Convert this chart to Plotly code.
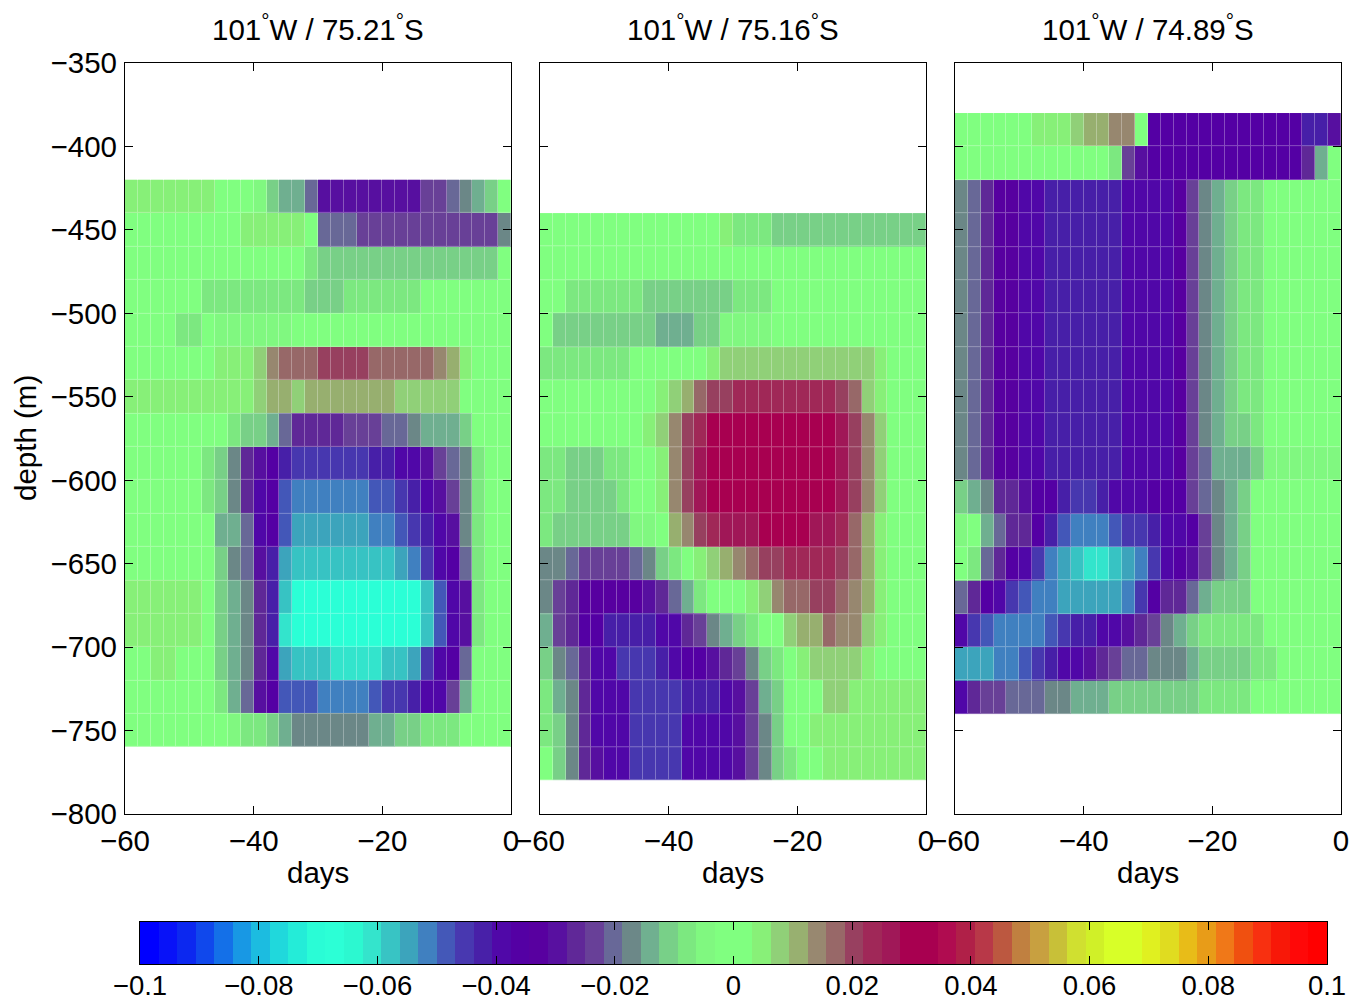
import plotly.graph_objects as go
import numpy as np

# ---------------- data (values in thousandths) ----------------
DAYS = [-59, -57, -55, -53, -51, -49, -47, -45, -43, -41, -39, -37, -35, -33, -31,
        -29, -27, -25, -23, -21, -19, -17, -15, -13, -11, -9, -7, -5, -3, -1]

DEPTH1 = [-430, -450, -470, -490, -510, -530, -550, -570, -590, -610, -630, -650,
          -670, -690, -710, -730, -750]
DEPTH2 = [-450, -470, -490, -510, -530, -550, -570, -590, -610, -630, -650, -670,
          -690, -710, -730, -750, -770]
DEPTH3 = [-390, -410, -430, -450, -470, -490, -510, -530, -550, -570, -590, -610,
          -630, -650, -670, -690, -710, -730]

P1 = [
    [6,6,6,6,6,6,6,0,0,0,-4,-11,-14,-14,-20,-30,-30,-30,-30,-30,-30,-30,-30,-24,-24,-20,-17,-14,-11,0],
    [0,0,0,0,0,0,0,0,0,5,5,5,5,5,0,-20,-20,-20,-24,-24,-24,-24,-24,-24,-24,-24,-24,-24,-24,-17],
    [0,0,0,0,0,0,0,0,0,0,0,0,0,0,-8,-11,-11,-11,-11,-11,-11,-11,-11,-11,-11,-11,-11,-11,-11,0],
    [0,0,0,0,0,0,-8,-8,-8,-8,-8,-8,-8,-8,-11,-11,-11,-8,-8,-8,-8,-8,-8,0,0,0,0,0,0,0],
    [0,0,0,0,-8,-8,0,-4,-4,-4,-4,-4,-4,0,0,0,0,0,0,0,0,0,0,0,0,0,0,0,0,0],
    [0,0,0,0,0,0,0,5,5,5,8,14,17,17,17,20,20,20,20,17,17,17,17,17,14,11,5,0,0,0],
    [5,5,5,5,5,5,5,5,5,5,9,11,11,8,11,11,11,11,11,11,11,8,8,8,8,8,0,0,0,0],
    [0,0,0,0,0,0,0,0,-8,-11,-11,-14,-20,-28,-28,-28,-28,-24,-24,-24,-20,-20,-17,-14,-14,-14,-11,0,0,0],
    [0,0,0,0,0,0,-8,-11,-17,-27,-30,-36,-42,-45,-45,-45,-45,-45,-45,-42,-42,-38,-38,-30,-24,-20,-17,-8,0,0],
    [0,0,0,0,0,0,-8,-11,-17,-27,-38,-36,-48,-52,-52,-52,-52,-52,-52,-48,-48,-45,-42,-38,-30,-24,-17,-8,0,0],
    [0,0,0,0,0,0,0,-14,-14,-20,-38,-36,-48,-55,-55,-55,-55,-55,-55,-52,-52,-48,-45,-42,-38,-30,-17,-8,0,0],
    [0,0,0,0,0,0,0,-11,-17,-20,-30,-42,-55,-58,-58,-58,-58,-58,-58,-58,-58,-55,-52,-45,-38,-36,-20,-8,0,0],
    [5,5,5,5,5,5,0,-11,-14,-17,-28,-42,-58,-67,-67,-67,-67,-67,-67,-67,-67,-67,-67,-58,-48,-38,-30,-8,0,0],
    [5,5,5,5,5,5,0,-11,-14,-17,-28,-42,-61,-67,-67,-67,-67,-67,-67,-67,-67,-67,-67,-58,-48,-38,-30,-8,0,0],
    [0,0,5,5,0,0,0,-11,-14,-17,-28,-38,-55,-58,-58,-58,-61,-61,-61,-61,-58,-58,-55,-45,-38,-36,-20,0,0,0],
    [0,0,0,0,0,0,0,-8,-14,-20,-30,-36,-48,-48,-48,-52,-52,-52,-52,-48,-45,-45,-42,-38,-38,-24,-14,0,0,0],
    [0,0,0,0,0,0,0,0,-4,-8,-8,-11,-14,-17,-17,-17,-17,-17,-17,-14,-14,-11,-11,-8,-8,-8,0,0,0,0],
]

P2 = [
    [0,0,0,0,0,0,0,0,0,0,0,0,0,0,5,-8,-8,-8,-11,-11,-11,-11,-11,-11,-11,-11,-11,-11,-11,-11],
    [0,0,0,0,0,0,0,0,0,0,0,0,0,0,0,0,0,0,0,0,0,0,0,0,0,0,0,0,0,0],
    [0,0,-8,-8,-8,-8,-8,-8,-11,-11,-11,-11,-11,-11,-11,-8,-8,-8,0,0,0,0,0,0,0,0,0,0,0,0],
    [0,-11,-11,-11,-11,-11,-11,-11,-11,-14,-14,-14,-11,-11,-4,-4,-4,-4,0,0,0,0,0,0,0,0,0,0,0,0],
    [-8,-8,-8,-8,-8,-8,-8,0,0,0,0,0,0,5,8,8,8,8,8,8,8,8,8,8,8,8,5,0,0,0],
    [0,0,0,0,0,0,0,0,0,5,8,12,17,20,20,23,23,23,23,23,23,23,23,20,17,8,5,0,0,0],
    [0,0,0,0,0,0,0,0,5,8,14,20,23,30,30,30,30,30,30,30,30,30,30,27,20,14,8,0,0,0],
    [-8,-8,-11,-11,-11,-8,-8,0,0,5,14,20,27,32,32,32,32,32,32,32,32,32,32,27,20,14,8,0,0,0],
    [-8,-8,-11,-11,-11,-11,-8,0,0,5,14,20,27,32,32,32,32,32,32,32,32,32,32,27,20,14,8,0,0,0],
    [-8,-11,-11,-11,-11,-11,-11,-4,-4,0,11,14,20,23,27,27,27,32,32,32,32,27,27,23,17,11,5,0,0,0],
    [-17,-17,-20,-24,-24,-24,-24,-20,-17,-11,-8,0,5,8,11,14,17,20,20,23,23,23,23,20,17,11,5,0,0,0],
    [-17,-24,-28,-33,-33,-33,-33,-33,-30,-28,-20,-14,-8,0,0,0,5,8,14,17,17,20,20,17,14,11,5,0,0,0],
    [-14,-24,-28,-36,-36,-42,-42,-42,-42,-38,-38,-28,-24,-17,-14,-11,-8,0,0,8,11,11,17,14,14,8,5,0,0,0],
    [-11,-17,-20,-28,-38,-38,-45,-45,-45,-42,-38,-36,-36,-30,-27,-24,-17,-11,-8,0,5,9,9,9,9,5,3,3,3,3],
    [-8,-14,-17,-27,-38,-38,-38,-45,-45,-45,-45,-42,-42,-42,-38,-30,-24,-14,-11,0,0,0,8,8,5,5,5,5,5,5],
    [-8,-11,-17,-27,-38,-38,-38,-45,-45,-45,-45,-38,-38,-38,-38,-30,-24,-17,-11,0,0,5,5,5,5,5,5,5,5,5],
    [0,-11,-17,-27,-30,-38,-38,-45,-45,-45,-45,-38,-38,-38,-38,-30,-24,-17,-11,-8,0,0,4,4,4,4,4,4,4,4],
]

P3 = [
    [0,0,0,0,0,0,6,6,6,8,11,11,13,13,0,-36,-36,-36,-36,-36,-36,-36,-36,-36,-36,-36,-36,-42,-42,-30],
    [0,0,0,0,0,0,0,0,0,0,0,0,-8,-24,-30,-36,-36,-36,-36,-36,-36,-36,-36,-36,-36,-36,-36,-28,-14,0],
    [-17,-20,-27,-33,-33,-38,-38,-42,-42,-42,-42,-42,-42,-38,-38,-38,-38,-33,-24,-17,-14,-11,-8,-8,0,0,0,0,0,0],
    [-17,-20,-27,-33,-33,-38,-38,-42,-42,-42,-42,-42,-42,-38,-38,-38,-38,-33,-24,-17,-14,-11,-8,-8,0,0,0,0,0,0],
    [-17,-20,-27,-33,-33,-38,-38,-42,-42,-42,-42,-42,-42,-38,-38,-38,-38,-33,-24,-17,-14,-11,-8,-8,0,0,0,0,0,0],
    [-17,-20,-27,-33,-33,-38,-38,-42,-42,-42,-42,-42,-42,-38,-38,-38,-38,-33,-24,-17,-14,-11,-8,-8,0,0,0,0,0,0],
    [-17,-20,-27,-33,-33,-38,-38,-42,-42,-42,-42,-42,-42,-38,-38,-38,-38,-33,-24,-17,-14,-11,-8,-8,0,0,0,0,0,0],
    [-17,-20,-27,-33,-33,-38,-38,-42,-42,-42,-42,-42,-42,-38,-38,-38,-38,-33,-24,-17,-14,-11,-8,-8,0,0,0,0,0,0],
    [-17,-20,-27,-33,-33,-38,-38,-42,-42,-42,-42,-42,-42,-38,-38,-38,-38,-33,-24,-17,-14,-11,-8,-8,0,0,0,0,0,0],
    [-17,-20,-27,-33,-33,-38,-38,-42,-42,-42,-42,-42,-42,-38,-38,-38,-38,-33,-24,-17,-14,-11,-11,-8,0,0,0,0,0,0],
    [-17,-20,-27,-33,-33,-38,-38,-42,-42,-42,-42,-42,-42,-38,-38,-38,-38,-33,-24,-20,-14,-14,-14,-11,-4,-4,-4,-4,-4,-4],
    [-11,-14,-17,-27,-28,-30,-36,-36,-42,-45,-45,-42,-38,-38,-38,-36,-36,-36,-24,-20,-17,-14,-11,0,0,0,0,0,0,0],
    [-4,0,-14,-20,-27,-27,-36,-42,-48,-52,-52,-52,-48,-45,-45,-42,-38,-38,-36,-24,-17,-14,-11,0,0,0,0,0,0,0],
    [0,-8,-20,-27,-36,-38,-45,-52,-55,-58,-61,-61,-58,-55,-52,-45,-38,-36,-30,-24,-17,-14,-11,0,0,0,0,0,0,0],
    [-20,-28,-36,-38,-45,-48,-52,-52,-55,-55,-55,-55,-55,-52,-45,-36,-28,-27,-20,-14,-11,-11,-11,0,0,0,0,0,0,0],
    [-38,-45,-48,-52,-52,-52,-52,-48,-45,-42,-42,-38,-38,-30,-27,-24,-17,-14,-11,-8,-8,-8,-8,-8,0,0,0,0,0,0],
    [-55,-55,-55,-52,-52,-48,-45,-42,-38,-38,-30,-28,-24,-20,-20,-17,-17,-17,-14,-11,-11,-11,-11,-8,-8,0,0,0,0,0],
    [-38,-28,-24,-24,-20,-20,-20,-17,-17,-14,-14,-14,-11,-11,-11,-11,-11,-11,-11,-8,-8,-8,-8,0,0,0,0,0,0,0],
]

TITLES = ["101<sup>°</sup>W / 75.21<sup>°</sup>S",
          "101<sup>°</sup>W / 75.16<sup>°</sup>S",
          "101<sup>°</sup>W / 74.89<sup>°</sup>S"]

Y_TICKS = [-800, -750, -700, -650, -600, -550, -500, -450, -400, -350]
X_TICKS = [-60, -40, -20, 0]
CB_TICKS = [-0.1, -0.08, -0.06, -0.04, -0.02, 0, 0.02, 0.04, 0.06, 0.08, 0.1]
CB_LABELS = ["\u22120.1", "\u22120.08", "\u22120.06", "\u22120.04", "\u22120.02", "0",
             "0.02", "0.04", "0.06", "0.08", "0.1"]

COLORS = [
    "#0000FF", "#0812F8", "#0C28F0", "#1048EC", "#1470E8", "#1898E4", "#1CBCE0", "#20D8DC",
    "#24ECD8", "#2AFCD6", "#2CFFD6", "#2CF8D0", "#34E4CC", "#38C4C4", "#3CA4BC", "#4080C0",
    "#4458B8", "#4838B0", "#4820A8", "#5008A8", "#5400A4", "#5800A0", "#5810A0", "#602898",
    "#684098", "#686898", "#6C8888", "#70B090", "#78D088", "#7CE880", "#80F880", "#80FF80",
    "#80FF80", "#88F078", "#90D078", "#98B070", "#988870", "#986868", "#984060", "#A02858",
    "#A01858", "#A80050", "#A80050", "#B00C50", "#B02048", "#B83848", "#BC5840", "#C08040",
    "#C8A040", "#C8C038", "#D0E030", "#D0F028", "#D8FF28", "#D8FF28", "#E0F020", "#E0DC20",
    "#E8BC18", "#E89C18", "#F07818", "#F05010", "#F83010", "#F81808", "#FF0808", "#FF0000",
]
CMIN, CMAX = -0.1, 0.1

# ---------------- figure ----------------
W, H = 1362, 1003
FONT = "Liberation Sans, Arial, Helvetica, sans-serif"
FS = 29.5
FS_CB = 27.5

n = len(COLORS)
colorscale = []
for i, c in enumerate(COLORS):
    colorscale.append([i / n, c])
    colorscale.append([(i + 1) / n, c])

fig = go.Figure()

panels = [(P1, DEPTH1), (P2, DEPTH2), (P3, DEPTH3)]
for k, (p, d) in enumerate(panels):
    sfx = "" if k == 0 else str(k + 1)
    z = np.array(p) / 1000.0
    # layer with 1px gaps (white background shows through -> cell edges)
    fig.add_trace(go.Heatmap(
        x=DAYS, y=d, z=z, xgap=1, ygap=1,
        coloraxis="coloraxis", xaxis="x" + sfx, yaxis="y" + sfx,
        hoverinfo="skip", zsmooth=False))
    # same cells, partly transparent on top -> faint cell edges like the reference
    fig.add_trace(go.Heatmap(
        x=DAYS, y=d, z=z, opacity=0.7,
        coloraxis="coloraxis", xaxis="x" + sfx, yaxis="y" + sfx,
        hoverinfo="skip", zsmooth=False))

# colorbar drawn as a heatmap strip
step = (CMAX - CMIN) / n
cb_centers = [CMIN + (i + 0.5) * step for i in range(n)]
fig.add_trace(go.Heatmap(
    x=cb_centers, y=[0], z=[cb_centers], coloraxis="coloraxis",
    xaxis="x4", yaxis="y4", hoverinfo="skip", zsmooth=False))

px_x = [(125, 511), (540, 926), (955, 1341)]
y_dom = [1 - 814 / H, 1 - 63 / H]

axis_common = dict(showline=True, linecolor="black", linewidth=1.2, mirror="ticks",
                   ticks="inside", ticklen=8, tickwidth=1.2, tickcolor="black",
                   showgrid=False, zeroline=False, automargin=False)

layout = dict(
    template="none",
    width=W, height=H, margin=dict(l=0, r=0, t=0, b=0, pad=0), autosize=False,
    paper_bgcolor="white", plot_bgcolor="white", showlegend=False,
    coloraxis=dict(colorscale=colorscale, cmin=CMIN, cmax=CMAX, showscale=False),
    font=dict(family=FONT, size=FS, color="black"),
)
annotations = []
for k, (x0, x1) in enumerate(px_x):
    sfx = "" if k == 0 else str(k + 1)
    layout["xaxis" + sfx] = dict(domain=[x0 / W, x1 / W], anchor="y" + sfx,
                                 range=[-60, 0], tickvals=X_TICKS,
                                 ticklabelstandoff=0,
                                 tickfont=dict(family=FONT, size=FS, color="black"),
                                 **axis_common)
    layout["yaxis" + sfx] = dict(domain=y_dom, anchor="x" + sfx,
                                 range=[-800, -350], tickvals=Y_TICKS,
                                 showticklabels=(k == 0), ticklabelstandoff=1,
                                 tickfont=dict(family=FONT, size=FS, color="black"),
                                 **axis_common)
    cx = (x0 + x1) / 2 / W
    annotations.append(dict(text=TITLES[k], x=cx, y=1 - 28 / H, xref="paper", yref="paper",
                            showarrow=False, font=dict(family=FONT, size=FS, color="black"),
                            xanchor="center", yanchor="middle"))
    annotations.append(dict(text="days", x=cx, y=1 - 872 / H, xref="paper", yref="paper",
                            showarrow=False, font=dict(family=FONT, size=FS, color="black"),
                            xanchor="center", yanchor="middle"))

annotations.append(dict(text="depth (m)", x=25 / W, y=1 - 438 / H, xref="paper", yref="paper",
                        showarrow=False, textangle=-90,
                        font=dict(family=FONT, size=FS, color="black"),
                        xanchor="center", yanchor="middle"))

layout["xaxis4"] = dict(domain=[140 / W, 1327 / W], anchor="y4", range=[CMIN, CMAX],
                        tickvals=CB_TICKS, ticktext=CB_LABELS, ticklabelstandoff=-3,
                        tickfont=dict(family=FONT, size=FS_CB, color="black"),
                        **axis_common)
layout["yaxis4"] = dict(domain=[1 - 964 / H, 1 - 922 / H], anchor="x4", range=[-0.5, 0.5],
                        showline=True, linecolor="black", linewidth=1.2, mirror=True,
                        ticks="", showticklabels=False, showgrid=False, zeroline=False,
                        automargin=False)
layout["annotations"] = annotations
fig.update_layout(**layout)

fig.write_html("out.html", config={"displayModeBar": False},
               post_script="document.body.style.margin='0';")
